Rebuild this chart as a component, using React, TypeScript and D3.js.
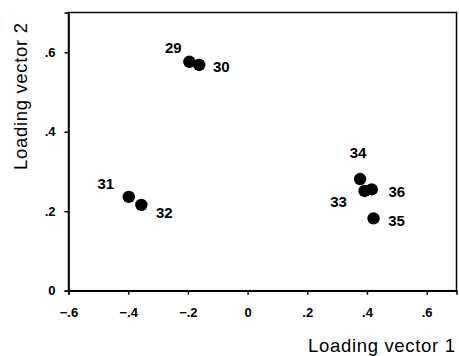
import React, { useEffect, useRef } from "react";
import * as d3 from "d3";

// point ids and loadings
const ids = ["29", "30", "31", "32", "33", "34", "35", "36"];
const loading1 = [-0.195, -0.162, -0.398, -0.356, 0.392, 0.377, 0.422, 0.416];
const loading2 = [0.576, 0.568, 0.236, 0.216, 0.251, 0.281, 0.182, 0.255];

const xTicks = [-0.6, -0.4, -0.2, 0, 0.2, 0.4, 0.6];
const yTicks = [0, 0.2, 0.4, 0.6];

// label offset from its dot, in px
const labelOffset: { [key: string]: [number, number] } = {
  "29": [-16, -14],
  "30": [22, 2],
  "31": [-23, -13],
  "32": [23, 8],
  "33": [-26, 11],
  "34": [-2, -26],
  "35": [23, 2],
  "36": [25, 2],
};

const fmt = (d: number) => (d === 0 ? "0" : d3.format(".1f")(d).replace("0.", "."));

const App: React.FC = () => {
  const svgRef = useRef<SVGSVGElement | null>(null);

  useEffect(() => {
    const width = 459;
    const height = 356;
    const margin = { top: 12.5, right: 2.5, bottom: 65.3, left: 68.5 };
    const svg = d3.select(svgRef.current);
    svg.selectAll("*").remove();

    const x = d3.scaleLinear().domain([-0.6, 0.7]).range([margin.left, width - margin.right]);
    const y = d3.scaleLinear().domain([0, 0.7]).range([height - margin.bottom, margin.top]);

    // frame
    svg
      .append("rect")
      .attr("x", margin.left)
      .attr("y", margin.top)
      .attr("width", width - margin.right - margin.left)
      .attr("height", height - margin.bottom - margin.top)
      .attr("fill", "none")
      .attr("stroke", "#000")
      .attr("stroke-width", 1.5);

    const xAxis = d3.axisBottom(x).tickValues(xTicks).tickFormat(fmt as any).tickSize(4).tickPadding(13);
    const yAxis = d3.axisLeft(y).tickValues(yTicks).tickFormat(fmt as any).tickSize(4).tickPadding(9);

    const gx = svg
      .append("g")
      .attr("transform", `translate(0,${height - margin.bottom})`)
      .call(xAxis as any);
    const gy = svg.append("g").attr("transform", `translate(${margin.left},0)`).call(yAxis as any);

    [gx, gy].forEach((g) => {
      g.select(".domain").attr("stroke-width", 1.5);
      g.selectAll(".tick line").attr("stroke-width", 1.5);
      g.selectAll(".tick text")
        .style("font-family", "Liberation Sans, Arial, sans-serif")
        .style("font-size", "13px")
        .style("font-weight", "bold")
        .attr("fill", "#000");
    });

    // axis titles
    svg
      .append("text")
      .attr("x", 455)
      .attr("y", 351.5)
      .attr("text-anchor", "end")
      .attr("textLength", 147)
      .style("font-family", "Liberation Sans, Arial, sans-serif")
      .style("font-size", "18.5px")
      .text("Loading vector 1");

    svg
      .append("text")
      .attr("transform", `translate(26.7,96.5) rotate(-90)`)
      .attr("text-anchor", "middle")
      .attr("textLength", 147)
      .style("font-family", "Liberation Sans, Arial, sans-serif")
      .style("font-size", "18.5px")
      .text("Loading vector 2");

    const pts = ids.map((id, i) => ({ id, v1: loading1[i], v2: loading2[i] }));

    svg
      .append("g")
      .selectAll("circle")
      .data(pts)
      .enter()
      .append("circle")
      .attr("cx", (d) => x(d.v1))
      .attr("cy", (d) => y(d.v2))
      .attr("r", 6.2)
      .attr("fill", "#000");

    svg
      .append("g")
      .selectAll("text")
      .data(pts)
      .enter()
      .append("text")
      .attr("x", (d) => x(d.v1) + labelOffset[d.id][0])
      .attr("y", (d) => y(d.v2) + labelOffset[d.id][1])
      .attr("dy", "0.35em")
      .attr("text-anchor", "middle")
      .style("font-family", "Liberation Sans, Arial, sans-serif")
      .style("font-size", "15px")
      .style("font-weight", "bold")
      .text((d) => d.id);
  }, []);

  return (
    <svg
      ref={svgRef}
      width={459}
      height={356}
      style={{ position: "absolute", left: 0, top: 0, background: "#fff" }}
    />
  );
};

export default App;
